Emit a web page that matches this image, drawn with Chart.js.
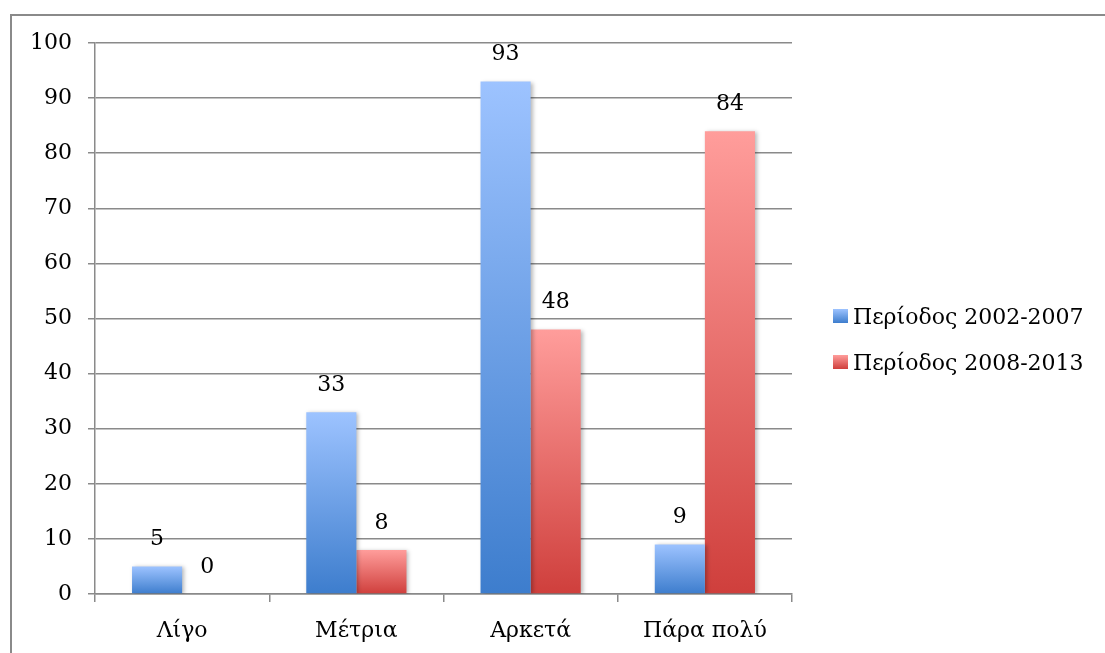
<!DOCTYPE html>
<html>
<head>
<meta charset="utf-8">
<script src="https://cdn.jsdelivr.net/npm/chart.js@4.4.0/dist/chart.umd.min.js"></script>
<style>
  html, body { margin: 0; padding: 0; background: #fff; }
  #wrap { position: relative; width: 1105px; height: 653px; overflow: hidden; }
  #frame { position: absolute; left: 10px; top: 14px; width: 1200px; height: 700px;
           border-left: 2px solid #8a8a8a; border-top: 2px solid #8a8a8a; }
  #chart { position: absolute; left: 0; top: 0; }
  #legend { position: absolute; left: 833px; top: 293px; font-family: "DejaVu Serif", serif;
            font-size: 22px; color: #000; }
  #legend .item { display: flex; align-items: center; height: 46px; white-space: nowrap; }
  #legend .sw { width: 15px; height: 14px; margin-right: 5px; }
</style>
</head>
<body>
<div id="wrap">
  <div id="frame"></div>
  <canvas id="chart" width="1105" height="653"></canvas>
  <div id="legend"></div>
</div>
<script>
const categories = ['Λίγο', 'Μέτρια', 'Αρκετά', 'Πάρα πολύ'];
const seriesLabels = ['Περίοδος 2002-2007', 'Περίοδος 2008-2013'];
const values2002 = [5, 33, 93, 9];
const values2008 = [0, 8, 48, 84];
const yTicks = [0, 10, 20, 30, 40, 50, 60, 70, 80, 90, 100];

const FONT = '"DejaVu Serif", serif';
const FONT_SIZE = 22;
const blueStops = ['#9dc3ff', '#3d7dcd'];
const redStops = ['#ff9d9b', '#cf3f3c'];

// vertical gradient spanning each bar from its top to the baseline
function barGradient(stops) {
  return function (ctx) {
    const chart = ctx.chart;
    if (!chart.chartArea || ctx.raw === undefined) return stops[0];
    const y = chart.scales.y;
    const top = y.getPixelForValue(ctx.raw);
    const base = y.getPixelForValue(0);
    if (base - top < 1) return stops[0];
    const g = chart.ctx.createLinearGradient(0, top, 0, base);
    g.addColorStop(0, stops[0]);
    g.addColorStop(1, stops[1]);
    return g;
  };
}

// soft shadow under the bars
const barShadow = {
  id: 'barShadow',
  beforeDatasetsDraw(chart) {
    const c = chart.ctx;
    c.save();
    c.shadowColor = 'rgba(0,0,0,0.28)';
    c.shadowBlur = 4;
    c.shadowOffsetX = 2;
    c.shadowOffsetY = 1;
  },
  afterDatasetsDraw(chart) {
    chart.ctx.restore();
  }
};

// value printed above every bar
const valueLabels = {
  id: 'valueLabels',
  afterDraw(chart) {
    const c = chart.ctx;
    c.save();
    c.font = FONT_SIZE + 'px ' + FONT;
    c.fillStyle = '#000';
    c.textAlign = 'center';
    c.textBaseline = 'middle';
    chart.data.datasets.forEach((ds, i) => {
      chart.getDatasetMeta(i).data.forEach((bar, j) => {
        c.fillText(String(ds.data[j]), bar.x, bar.y - 27);
      });
    });
    c.restore();
  }
};

const chart = new Chart(document.getElementById('chart'), {
  type: 'bar',
  data: {
    labels: categories,
    datasets: [
      { label: seriesLabels[0], data: values2002, backgroundColor: barGradient(blueStops) },
      { label: seriesLabels[1], data: values2008, backgroundColor: barGradient(redStops) }
    ]
  },
  options: {
    responsive: false,
    animation: false,
    events: [],
    layout: { padding: { left: 0, top: 43, right: 313, bottom: 0 } },
    datasets: { bar: { categoryPercentage: 0.575, barPercentage: 1 } },
    scales: {
      x: {
        grid: { drawOnChartArea: false, color: '#8a8a8a', lineWidth: 1.5, tickLength: 8, offset: true },
        border: { color: '#8a8a8a', width: 1.5 },
        ticks: { color: '#000', font: { family: FONT, size: FONT_SIZE }, padding: 16 },
        afterFit(s) { s.height = 59; }
      },
      y: {
        min: 0,
        max: 100,
        afterBuildTicks(s) { s.ticks = yTicks.map(v => ({ value: v })); },
        grid: { color: '#8a8a8a', lineWidth: 1.5, tickLength: 7 },
        border: { color: '#8a8a8a', width: 1.5 },
        ticks: { color: '#000', font: { family: FONT, size: FONT_SIZE }, padding: 16 },
        afterFit(s) { s.width = 95; }
      }
    },
    plugins: {
      legend: { display: false },
      tooltip: { enabled: false }
    }
  },
  plugins: [barShadow, valueLabels]
});

// legend on the right, built from the datasets
const legend = document.getElementById('legend');
[blueStops, redStops].forEach((stops, i) => {
  const item = document.createElement('div');
  item.className = 'item';
  const sw = document.createElement('span');
  sw.className = 'sw';
  sw.style.background = 'linear-gradient(' + stops[0] + ',' + stops[1] + ')';
  const txt = document.createElement('span');
  txt.textContent = chart.data.datasets[i].label;
  item.appendChild(sw);
  item.appendChild(txt);
  legend.appendChild(item);
});
</script>
</body>
</html>
